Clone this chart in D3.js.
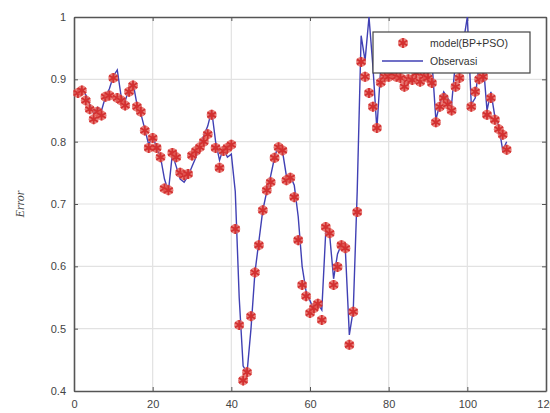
<!DOCTYPE html>
<html>
<head>
<meta charset="utf-8">
<script src="https://cdn.jsdelivr.net/npm/d3@7"></script>
<style>
  body { margin: 0; background: #fff; }
  .tick text { font-family: "Liberation Sans", Arial, sans-serif; font-size: 11px; fill: #444; }
</style>
</head>
<body>
<div id="vis"></div>
<script>
const FRAME_HEIGHT = 413;
const FRAME_WIDTH = 550;
const MARGINS = {left: 74, right: 4, top: 17, bottom: 22};
const VIS_HEIGHT = FRAME_HEIGHT - MARGINS.top - MARGINS.bottom;
const VIS_WIDTH = FRAME_WIDTH - MARGINS.left - MARGINS.right;

// data
const index = d3.range(1, 111);
const observasi = [
  0.885, 0.885, 0.875, 0.860, 0.845, 0.855, 0.850, 0.872, 0.885, 0.905,
  0.915, 0.872, 0.865, 0.885, 0.895, 0.860, 0.845, 0.820, 0.795, 0.810,
  0.790, 0.775, 0.740, 0.720, 0.780, 0.760, 0.740, 0.735, 0.745, 0.760,
  0.775, 0.795, 0.810, 0.825, 0.850, 0.800, 0.770, 0.790, 0.775, 0.780,
  0.720, 0.550, 0.440, 0.430, 0.500, 0.590, 0.640, 0.690, 0.720, 0.745,
  0.775, 0.795, 0.785, 0.745, 0.745, 0.730, 0.680, 0.600, 0.560, 0.545,
  0.530, 0.540, 0.530, 0.655, 0.650, 0.580, 0.620, 0.635, 0.625, 0.490,
  0.530, 0.720, 0.970, 0.930, 1.000, 0.920, 0.820, 0.920, 0.935, 0.925,
  0.940, 0.930, 0.925, 0.935, 0.930, 0.940, 0.925, 0.935, 0.930, 0.940,
  0.930, 0.835, 0.860, 0.880, 0.870, 0.860, 0.930, 0.940, 0.960, 1.000,
  0.860, 0.870, 0.925, 0.930, 0.850, 0.880, 0.840, 0.825, 0.786, 0.800
];
const model = [
  0.878, 0.882, 0.866, 0.852, 0.836, 0.848, 0.842, 0.872, 0.874, 0.902,
  0.870, 0.866, 0.858, 0.880, 0.890, 0.856, 0.848, 0.818, 0.790, 0.806,
  0.790, 0.775, 0.725, 0.722, 0.782, 0.775, 0.750, 0.746, 0.748, 0.778,
  0.785, 0.791, 0.800, 0.812, 0.843, 0.790, 0.758, 0.785, 0.790, 0.795,
  0.660, 0.506, 0.417, 0.430, 0.520, 0.590, 0.634, 0.690, 0.722, 0.735,
  0.774, 0.791, 0.786, 0.738, 0.742, 0.711, 0.642, 0.570, 0.552, 0.525,
  0.533, 0.540, 0.514, 0.663, 0.653, 0.570, 0.599, 0.634, 0.629, 0.474,
  0.527, 0.687, 0.928, 0.904, 0.878, 0.856, 0.822, 0.895, 0.904, 0.904,
  0.910, 0.904, 0.902, 0.888, 0.900, 0.899, 0.910, 0.896, 0.905, 0.902,
  0.894, 0.831, 0.856, 0.870, 0.860, 0.850, 0.888, 0.902, 0.920, 0.930,
  0.856, 0.880, 0.900, 0.904, 0.843, 0.870, 0.835, 0.820, 0.811, 0.787
];
const xTicks = [0, 20, 40, 60, 80, 100, 120];
const yTicks = [0.4, 0.5, 0.6, 0.7, 0.8, 0.9, 1];
const seriesNames = ["model(BP+PSO)", "Observasi"];

const FRAME = d3.select("#vis")
                .append("svg")
                .attr("height", FRAME_HEIGHT)
                .attr("width", FRAME_WIDTH);

const X_SCALE = d3.scaleLinear().domain([0, 120]).range([0, VIS_WIDTH]);
const Y_SCALE = d3.scaleLinear().domain([0.4, 1]).range([VIS_HEIGHT, 0]);

const plot = FRAME.append("g")
                  .attr("transform", "translate(" + MARGINS.left + "," + MARGINS.top + ")");

plot.append("clipPath").attr("id", "clip")
    .append("rect").attr("width", VIS_WIDTH).attr("height", VIS_HEIGHT);

// grid
plot.append("g").selectAll("line").data(xTicks.slice(1, -1)).enter().append("line")
    .attr("x1", d => X_SCALE(d)).attr("x2", d => X_SCALE(d))
    .attr("y1", 0).attr("y2", VIS_HEIGHT)
    .attr("stroke", "#e2e2e2").attr("stroke-width", 1.2);
plot.append("g").selectAll("line").data(yTicks.slice(1, -1)).enter().append("line")
    .attr("y1", d => Y_SCALE(d)).attr("y2", d => Y_SCALE(d))
    .attr("x1", 0).attr("x2", VIS_WIDTH)
    .attr("stroke", "#e2e2e2").attr("stroke-width", 1.2);

// axes (ticks pointing in, box style)
plot.append("g")
    .attr("transform", "translate(0," + VIS_HEIGHT + ")")
    .call(d3.axisBottom(X_SCALE).tickValues(xTicks).tickSizeInner(-4).tickSizeOuter(0).tickPadding(9));
plot.append("g")
    .call(d3.axisLeft(Y_SCALE).tickValues(yTicks).tickFormat(d => d3.format("")(d)).tickSizeInner(-4).tickSizeOuter(0).tickPadding(8));
plot.append("g")
    .call(d3.axisTop(X_SCALE).tickValues(xTicks).tickSizeInner(-4).tickSizeOuter(0).tickFormat(""));
plot.append("g")
    .attr("transform", "translate(" + VIS_WIDTH + ",0)")
    .call(d3.axisRight(Y_SCALE).tickValues(yTicks).tickSizeInner(-4).tickSizeOuter(0).tickFormat(""));
plot.selectAll(".domain").attr("stroke", "#555").attr("stroke-width", 1.6);
plot.selectAll(".tick line").attr("stroke", "#555");

// observed line
plot.append("path")
    .datum(index)
    .attr("clip-path", "url(#clip)")
    .attr("fill", "none")
    .attr("stroke", "#4040b4")
    .attr("stroke-width", 1.4)
    .attr("d", d3.line().x(d => X_SCALE(d)).y((d, i) => Y_SCALE(observasi[i])));

// model markers
const star = d3.symbol().type(d3.symbolAsterisk).size(70);
const marks = plot.append("g").selectAll(".pt").data(index).enter().append("g")
    .attr("transform", (d, i) => "translate(" + X_SCALE(d) + "," + Y_SCALE(model[i]) + ")");
marks.append("circle").attr("r", 5).attr("fill", "#e2605a").attr("opacity", 0.8);
marks.append("path").attr("d", star).attr("fill", "none").attr("stroke", "#d33030").attr("stroke-width", 1.8);

// y label
FRAME.append("text")
    .attr("transform", "translate(24," + (MARGINS.top + VIS_HEIGHT / 2) + ") rotate(-90)")
    .attr("text-anchor", "middle")
    .attr("font-family", "Liberation Serif, serif")
    .attr("font-style", "italic")
    .attr("font-size", 12)
    .attr("fill", "#444")
    .text("Error");

// legend
const legend = FRAME.append("g").attr("transform", "translate(373,32)");
legend.append("rect").attr("width", 157).attr("height", 41)
      .attr("fill", "#fff").attr("stroke", "#444").attr("stroke-width", 1.2);
const lg1 = legend.append("g").attr("transform", "translate(30,11)");
lg1.append("circle").attr("r", 5).attr("fill", "#e2605a").attr("opacity", 0.8);
lg1.append("path").attr("d", star).attr("fill", "none").attr("stroke", "#d33030").attr("stroke-width", 1.8);
legend.append("line").attr("x1", 9).attr("x2", 50).attr("y1", 29).attr("y2", 29)
      .attr("stroke", "#4040b4").attr("stroke-width", 1.4);
legend.selectAll(".lt").data(seriesNames).enter().append("text")
      .attr("x", 57).attr("y", (d, i) => 15 + i * 18)
      .attr("font-family", "Liberation Sans, Arial, sans-serif")
      .attr("font-size", 10.5).attr("fill", "#333")
      .text(d => d);
</script>
</body>
</html>
